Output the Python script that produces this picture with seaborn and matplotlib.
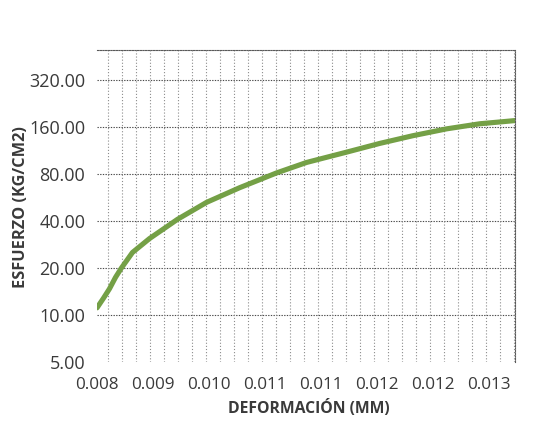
import numpy as np
import pandas as pd
import matplotlib
matplotlib.use("Agg")
import matplotlib.pyplot as plt
import seaborn as sns

# Stress-strain readings (deformation in mm, stress in kg/cm2)
deformacion = [0.008000, 0.008087, 0.008167, 0.008248, 0.008328, 0.008475,
               0.008703, 0.009078, 0.009467, 0.009908, 0.010404, 0.010806,
               0.011342, 0.011783, 0.012225, 0.012681, 0.013123, 0.013592]
esfuerzo = [11.1, 12.8, 14.7, 17.4, 20.0, 25.1,
            30.8, 40.9, 52.5, 65.1, 81.0, 94.5,
            110.0, 125.0, 140.0, 155.0, 167.0, 175.0]

x_ticks = [0.0080, 0.00875, 0.0095, 0.01025, 0.0110, 0.01175, 0.0125, 0.01325]
x_tick_labels = ["0.008", "0.009", "0.010", "0.011", "0.011", "0.012", "0.012", "0.013"]
y_ticks = [5, 10, 20, 40, 80, 160, 320]

df = pd.DataFrame({"deformacion": deformacion, "esfuerzo": esfuerzo})

sns.set_theme(style="white")
plt.rcParams["font.family"] = ["Open Sans", "DejaVu Sans"]

W, H = 556, 425
fig = plt.figure(figsize=(W / 100, H / 100), dpi=100)
ax = fig.add_axes([97 / W, 1 - 362 / H, (515 - 97) / W, (362 - 50) / H])

sns.lineplot(data=df, x="deformacion", y="esfuerzo", ax=ax,
             color="#74a046", linewidth=3.7, solid_capstyle="round",
             solid_joinstyle="round")

ax.set_yscale("log", base=2)
ax.set_ylim(5, 495)
ax.set_xlim(0.0080, 0.013595)

ax.set_yticks(y_ticks)
ax.set_yticklabels([f"{v:.2f}" for v in y_ticks])
ax.yaxis.set_minor_locator(matplotlib.ticker.NullLocator())
ax.set_xticks(x_ticks)
ax.set_xticklabels(x_tick_labels)

# fine vertical grid, four lines per labelled interval
step = 0.00075 / 4
minor_x = 0.0080 + 0.00075 * (10.5 / 56) + step * np.arange(0, 30)
ax.set_xticks(minor_x, minor=True)

ax.grid(False)
for v in y_ticks[1:]:
    ax.axhline(v, color="#4a4a4a", linestyle=(0, (1.2, 1.2)), linewidth=0.8, zorder=0)
for xv in minor_x:
    ax.axvline(xv, color="#8c8c8c", linestyle=(0, (1, 1.8)), linewidth=0.8, zorder=0)

for side in ["left", "bottom"]:
    ax.spines[side].set_visible(False)
for side in ["top", "right"]:
    ax.spines[side].set_visible(True)
    ax.spines[side].set_color("#5a5a5a")
    ax.spines[side].set_linestyle((0, (1.2, 1.2)))
    ax.spines[side].set_linewidth(0.8)

ax.tick_params(axis="y", which="major", length=0, pad=8.5, labelsize=13, labelcolor="#3a3a3a")
ax.tick_params(axis="x", which="major", length=0, pad=11, labelsize=12.3, labelcolor="#3a3a3a")
ax.tick_params(axis="x", which="minor", length=0)

ax.set_xlabel("")
ax.set_ylabel("")
fig.text(309 / W, 1 - 408.5 / H, "DEFORMACIÓN (MM)", fontsize=11.3, fontweight="bold",
         color="#3a3a3a", ha="center", va="center")
fig.text(21 / W, 1 - 207 / H, "ESFUERZO (KG/CM2)", fontsize=11.8, fontweight="bold",
         color="#3a3a3a", ha="center", va="center", rotation=90)

fig.savefig("out.png", dpi=100, facecolor="white")
